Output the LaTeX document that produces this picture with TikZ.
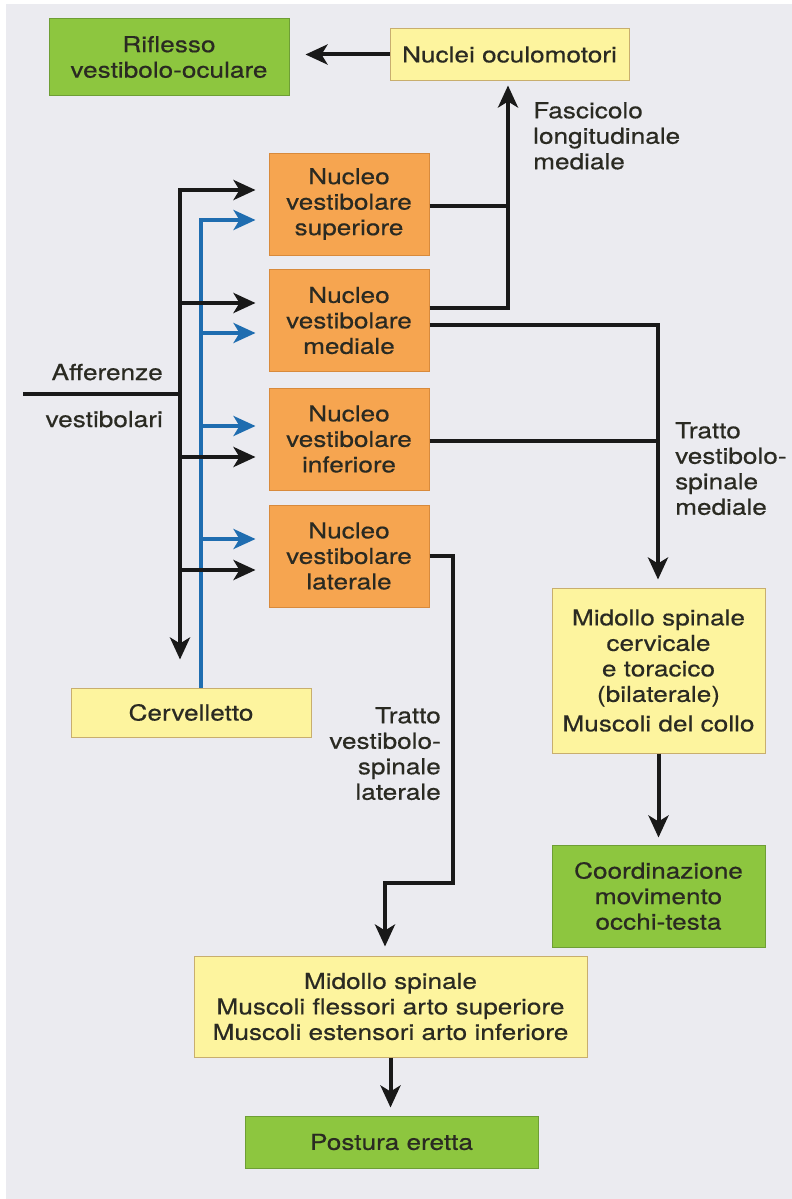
\documentclass[tikz,border=0pt]{standalone}
\usepackage{fontspec}
\setmainfont[FakeStretch=1.19,FakeBold=0.5]{TeX Gyre Heros}
\usetikzlibrary{arrows.meta}
\definecolor{bg}{HTML}{EBEBF0}
\definecolor{grn}{HTML}{8DC63F}
\definecolor{grnd}{HTML}{6E9E35}
\definecolor{org}{HTML}{F6A550}
\definecolor{orgd}{HTML}{D88A3C}
\definecolor{yel}{HTML}{FDF49E}
\definecolor{yeld}{HTML}{C8AE6E}
\definecolor{txt}{HTML}{2A2A22}
\definecolor{blu}{HTML}{1F6DB0}
\tikzset{mytip/.tip={Stealth[length=22pt,width=20pt,inset=6pt]}}
\begin{document}
\begin{tikzpicture}[x=1pt,y=-1pt,
 txtfont/.style={font=\fontsize{22}{25.5}\selectfont, text=txt},
 box/.style={txtfont, draw, line width=1pt, inner sep=0pt, align=center},
 gbox/.style={box, fill=grn, draw=grnd},
 obox/.style={box, fill=org, draw=orgd, minimum width=160pt, minimum height=102pt},
 ybox/.style={box, fill=yel, draw=yeld},
 lbl/.style={txtfont, inner sep=0pt},
 ln/.style={line width=4pt, draw=black!90},
 ar/.style={ln, -mytip},
 bln/.style={line width=3.6pt, draw=blu},
]
\useasboundingbox (0,0) rectangle (792,1199);
\fill[white] (0,0) rectangle (792,1199);
\fill[bg] (6,4) rectangle (792,1199);

% boxes
\node[gbox, minimum width=240pt, minimum height=76pt] (rifl) at (169,57) {Riflesso\\vestibolo-oculare};
\node[ybox, minimum width=239pt, minimum height=51pt] (nocu) at (509.5,54.5) {Nuclei oculomotori};
\node[obox] (sup) at (349,204) {Nucleo\\vestibolare\\superiore};
\node[obox] (med) at (349,320.5) {Nucleo\\vestibolare\\mediale};
\node[obox] (inf) at (349,439) {Nucleo\\vestibolare\\inferiore};
\node[obox] (lat) at (349,556) {Nucleo\\vestibolare\\laterale};
\node[ybox, minimum width=240pt, minimum height=49pt] (cerv) at (191,712.5) {Cervelletto};
\node[ybox, minimum width=213pt, minimum height=165pt] (midc) at (658.5,670.5) {Midollo spinale\\cervicale\\e toracico\\(bilaterale)\\[4pt]Muscoli del collo};
\node[gbox, minimum width=213pt, minimum height=102pt] (coord) at (658.5,896) {Coordinazione\\movimento\\occhi-testa};
\node[ybox, minimum width=393pt, minimum height=101pt] (mids) at (390.5,1006.5) {Midollo spinale\\Muscoli flessori arto superiore\\Muscoli estensori arto inferiore};
\node[gbox, minimum width=293pt, minimum height=52pt] (post) at (391.5,1142) {Postura eretta};

% labels
\node[lbl, anchor=north west, align=left] (fl) at (533,102) {Fascicolo\\longitudinale\\mediale};
\node[lbl, anchor=north west, align=left] (tm) at (675,422) {Tratto\\vestibolo-\\spinale\\mediale};
\node[lbl, anchor=north east, align=right] (tl) at (441,707) {Tratto\\vestibolo-\\spinale\\laterale};
\node[lbl, anchor=base east] (af) at (163,380) {Afferenze};
\node[lbl, anchor=base east] (vs) at (163,427) {vestibolari};

% coordinates
\coordinate (t1) at (180,190);
\coordinate (t2) at (180,303);
\coordinate (t3) at (180,457);
\coordinate (t4) at (180,570);
\coordinate (tA) at (23,394);
\coordinate (b1) at (201,220);
\coordinate (b2) at (201,333);
\coordinate (b3) at (201,426);
\coordinate (b4) at (201,539);
\coordinate (f1) at (508,308);
\coordinate (f2) at (508,206);
\coordinate (m1) at (658,325);
\coordinate (m2) at (658,441);
\coordinate (l1) at (453,556);
\coordinate (l2) at (453,883);
\coordinate (l3) at (385,883);

% blue afferents
\draw[bln, mytip-, shorten <=13pt] (b1 -| sup.west) -- (b1) -- (b1 |- cerv.north);
\draw[bln, -mytip, shorten >=13pt] (b2) -- (b2 -| med.west);
\draw[bln, -mytip, shorten >=13pt] (b3) -- (b3 -| inf.west);
\draw[bln, -mytip, shorten >=13pt] (b4) -- (b4 -| lat.west);

% black afferents
\draw[ln, mytip-mytip, shorten <=13pt, shorten >=28pt] (t1 -| sup.west) -- (t1) -- (t1 |- cerv.north);
\draw[ar, shorten >=13pt] (t2) -- (t2 -| med.west);
\draw[ar, shorten >=13pt] (t3) -- (t3 -| inf.west);
\draw[ar, shorten >=13pt] (t4) -- (t4 -| lat.west);
\draw[ln] (tA) -- (tA -| t1);

% outputs
\draw[ar, shorten >=16pt] (nocu.west) -- (nocu.west -| rifl.east);
\draw[ar, shorten >=5pt] (f1 -| med.east) -- (f1) -- (f1 |- nocu.south);
\draw[ln] (f2 -| sup.east) -- (f2);
\draw[ar, shorten >=8pt] (m1 -| med.east) -- (m1) -- (m1 |- midc.north);
\draw[ln] (m2 -| inf.east) -- (m2);
\draw[ar, shorten >=9pt] (l1 -| lat.east) -- (l1) -- (l2) -- (l3) -- (l3 |- mids.north);
\draw[ar, shorten >=7pt] (midc.south) -- (coord.north);
\draw[ar, shorten >=8pt] (mids.south) -- (mids.south |- post.north);
\end{tikzpicture}
\end{document}
